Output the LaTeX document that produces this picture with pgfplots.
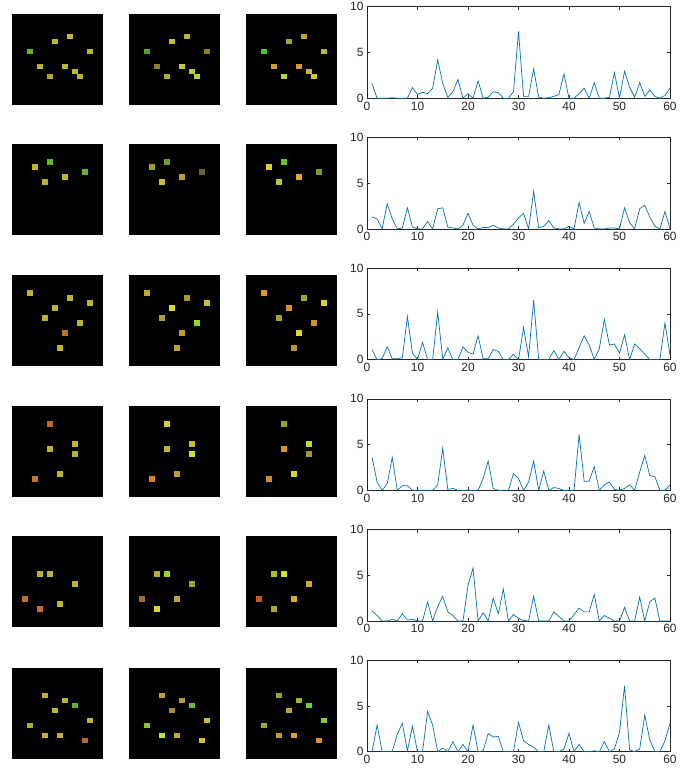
\documentclass[border=0pt]{standalone}
\usepackage{fontspec}
\setmainfont{Liberation Sans}
\usepackage{pgfplots}
\pgfplotsset{compat=1.18}
\definecolor{mblue}{RGB}{0,114,189}
\definecolor{axgray}{RGB}{38,38,38}
\pgfplotsset{
 lineax/.style={scale only axis, width=303bp, height=91.5bp, anchor=north west,
  xmin=0,xmax=60,ymin=0,ymax=10, xtick={0,10,...,60}, ytick={0,5,10},
  tick align=inside, major tick length=3bp,
  axis line style={axgray, line width=0.5bp},
  every tick/.style={axgray, line width=0.5bp},
  tick label style={font=\fontsize{12}{13}\selectfont, text=axgray},
  /pgf/number format/assume math mode=true},
 imgax/.style={scale only axis, width=90bp, height=90bp, anchor=north west,
  xmin=-0.5,xmax=17.5,ymin=-0.5,ymax=17.5, y dir=reverse,
  xtick=\empty, ytick=\empty,
  axis background/.style={fill=black}, axis line style={draw=black}},
}
\newcommand\pix[5]{\addplot[only marks, mark=square*, mark size=2.45bp,
  color={rgb,255:red,#3;green,#4;blue,#5}] coordinates {(#1,#2)};}
\begin{document}
\begin{tikzpicture}
\useasboundingbox (0,0) rectangle (699bp,-774bp);
% ---------------- Row 1 ----------------
\begin{axis}[imgax, at={(12bp,-13.7bp)}]
\pix{3}{7}{90}{180}{40}
\pix{8}{5}{190}{180}{40}
\pix{11}{4}{195}{185}{40}
\pix{15}{7}{190}{180}{40}
\pix{5}{10}{190}{180}{40}
\pix{10}{10}{190}{185}{40}
\pix{12}{11}{195}{185}{40}
\pix{7}{12}{180}{170}{35}
\pix{13}{12}{190}{180}{40}
\end{axis}
\begin{axis}[imgax, at={(129bp,-13.7bp)}]
\pix{3}{7}{90}{160}{40}
\pix{8}{5}{195}{190}{45}
\pix{11}{4}{190}{180}{40}
\pix{15}{7}{140}{130}{30}
\pix{5}{10}{140}{130}{30}
\pix{10}{10}{200}{200}{50}
\pix{12}{11}{170}{210}{50}
\pix{7}{12}{185}{170}{40}
\pix{13}{12}{180}{210}{50}
\end{axis}
\begin{axis}[imgax, at={(246bp,-13.7bp)}]
\pix{3}{7}{90}{190}{40}
\pix{8}{5}{150}{170}{40}
\pix{11}{4}{200}{160}{40}
\pix{15}{7}{190}{180}{40}
\pix{5}{10}{200}{160}{40}
\pix{10}{10}{220}{150}{40}
\pix{12}{11}{200}{185}{40}
\pix{7}{12}{170}{220}{50}
\pix{13}{12}{210}{200}{40}
\end{axis}
\begin{axis}[lineax, at={(367bp,-6.7bp)}]
\addplot[mblue, line width=0.7bp, mark=none] coordinates {
(1,1.6)(2,0)(3,0)(4,0)(5,0.05)(6,0)(7,0)(8,0)(9,1.15)(10,0.4)
(11,0.65)(12,0.5)(13,1.1)(14,4.2)(15,1.6)(16,0.1)(17,0.7)(18,2.05)(19,0)(20,0.5)
(21,0)(22,1.9)(23,0)(24,0.1)(25,0.7)(26,0.6)(27,0)(28,0)(29,0.7)(30,7.3)
(31,0.2)(32,0.2)(33,3.2)(34,0.1)(35,0)(36,0.05)(37,0.2)(38,0.4)(39,2.65)(40,0)
(41,0)(42,0.5)(43,1.1)(44,0)(45,1.7)(46,0)(47,0)(48,0.1)(49,2.8)(50,0)
(51,2.95)(52,1.2)(53,0.1)(54,1.7)(55,0.2)(56,0.9)(57,0.2)(58,0)(59,0.3)(60,1.1)};
\end{axis}
% ---------------- Row 2 ----------------
\begin{axis}[imgax, at={(12bp,-144.4bp)}]
\pix{4}{4}{190}{180}{40}
\pix{7}{3}{100}{180}{40}
\pix{14}{5}{100}{180}{40}
\pix{10}{6}{190}{180}{40}
\pix{6}{7}{190}{180}{40}
\end{axis}
\begin{axis}[imgax, at={(129bp,-144.4bp)}]
\pix{4}{4}{160}{160}{40}
\pix{7}{3}{110}{160}{40}
\pix{14}{5}{110}{100}{30}
\pix{10}{6}{190}{160}{40}
\pix{6}{7}{200}{190}{40}
\end{axis}
\begin{axis}[imgax, at={(246bp,-144.4bp)}]
\pix{4}{4}{220}{210}{40}
\pix{7}{3}{100}{200}{40}
\pix{14}{5}{120}{160}{40}
\pix{10}{6}{230}{170}{30}
\pix{6}{7}{180}{200}{50}
\end{axis}
\begin{axis}[lineax, at={(367bp,-137.4bp)}]
\addplot[mblue, line width=0.7bp, mark=none] coordinates {
(1,1.3)(2,1.1)(3,0)(4,2.75)(5,1.1)(6,0)(7,0.1)(8,2.3)(9,0.2)(10,0)
(11,0)(12,0.8)(13,0)(14,2.2)(15,2.3)(16,0.2)(17,0.1)(18,0)(19,0.4)(20,1.7)
(21,0.4)(22,0)(23,0.15)(24,0.15)(25,0.4)(26,0.1)(27,0)(28,0)(29,0.5)(30,1.2)
(31,1.7)(32,0)(33,4.1)(34,0.1)(35,0.3)(36,0.9)(37,0.1)(38,0)(39,0)(40,0.3)
(41,0)(42,2.9)(43,0.6)(44,1.9)(45,0.1)(46,0)(47,0)(48,0.1)(49,0.1)(50,0)
(51,2.3)(52,0.7)(53,0)(54,2.2)(55,2.6)(56,1.3)(57,0.3)(58,0)(59,1.9)(60,0)};
\end{axis}
% ---------------- Row 3 ----------------
\begin{axis}[imgax, at={(12bp,-275.1bp)}]
\pix{3}{3}{190}{180}{40}
\pix{11}{4}{190}{180}{40}
\pix{15}{5}{190}{180}{40}
\pix{8}{6}{190}{180}{40}
\pix{6}{8}{190}{180}{40}
\pix{13}{9}{190}{180}{40}
\pix{10}{11}{190}{110}{40}
\pix{9}{14}{190}{180}{40}
\end{axis}
\begin{axis}[imgax, at={(129bp,-275.1bp)}]
\pix{3}{3}{190}{170}{40}
\pix{11}{4}{170}{150}{40}
\pix{15}{5}{200}{190}{40}
\pix{8}{6}{220}{210}{40}
\pix{6}{8}{170}{160}{40}
\pix{13}{9}{140}{220}{40}
\pix{10}{11}{190}{160}{40}
\pix{9}{14}{190}{160}{40}
\end{axis}
\begin{axis}[imgax, at={(246bp,-275.1bp)}]
\pix{3}{3}{220}{150}{30}
\pix{11}{4}{150}{170}{40}
\pix{15}{5}{220}{210}{40}
\pix{8}{6}{220}{140}{40}
\pix{6}{8}{170}{160}{40}
\pix{13}{9}{210}{150}{40}
\pix{10}{11}{220}{220}{40}
\pix{9}{14}{190}{150}{40}
\end{axis}
\begin{axis}[lineax, at={(367bp,-268.1bp)}]
\addplot[mblue, line width=0.7bp, mark=none] coordinates {
(1,1.1)(2,0)(3,0.1)(4,1.4)(5,0.1)(6,0.1)(7,0.2)(8,4.7)(9,0.7)(10,0)
(11,1.9)(12,0)(13,0)(14,5.2)(15,0)(16,1.3)(17,0)(18,0)(19,1.4)(20,0.8)
(21,0.6)(22,2.6)(23,0.1)(24,0.1)(25,1.1)(26,0.9)(27,0)(28,0)(29,0.6)(30,0)
(31,3.5)(32,0.3)(33,6.5)(34,0)(35,0)(36,0)(37,1.0)(38,0)(39,0.9)(40,0.2)
(41,0)(42,1.3)(43,2.6)(44,1.6)(45,0)(46,1.2)(47,4.4)(48,1.6)(49,1.7)(50,0.7)
(51,2.7)(52,0)(53,1.7)(54,1.2)(55,0.6)(56,0)(57,0)(58,0)(59,4.0)(60,0.5)};
\end{axis}
% ---------------- Row 4 ----------------
\begin{axis}[imgax, at={(12bp,-405.8bp)}]
\pix{7}{3}{190}{110}{40}
\pix{12}{7}{190}{180}{40}
\pix{7}{8}{190}{180}{40}
\pix{12}{9}{190}{180}{40}
\pix{9}{13}{190}{180}{40}
\pix{4}{14}{190}{120}{40}
\end{axis}
\begin{axis}[imgax, at={(129bp,-405.8bp)}]
\pix{7}{3}{220}{210}{40}
\pix{12}{7}{200}{190}{40}
\pix{7}{8}{190}{180}{40}
\pix{12}{9}{200}{230}{40}
\pix{9}{13}{190}{160}{40}
\pix{4}{14}{220}{130}{40}
\end{axis}
\begin{axis}[imgax, at={(246bp,-405.8bp)}]
\pix{7}{3}{140}{170}{40}
\pix{12}{7}{190}{220}{40}
\pix{7}{8}{220}{150}{40}
\pix{12}{9}{170}{150}{40}
\pix{9}{13}{220}{210}{40}
\pix{4}{14}{210}{140}{40}
\end{axis}
\begin{axis}[lineax, at={(367bp,-398.8bp)}]
\addplot[mblue, line width=0.7bp, mark=none] coordinates {
(1,3.6)(2,0.9)(3,0)(4,0.7)(5,3.6)(6,0)(7,0.5)(8,0.5)(9,0)(10,0)
(11,0)(12,0)(13,0)(14,0.6)(15,4.6)(16,0.1)(17,0.2)(18,0)(19,0)(20,0)
(21,0)(22,0)(23,1.3)(24,3.2)(25,0.2)(26,0)(27,0)(28,0)(29,1.8)(30,1.3)
(31,0)(32,0.9)(33,3.2)(34,0)(35,2.1)(36,0)(37,0.3)(38,0.2)(39,0)(40,0)
(41,0)(42,6.1)(43,1.0)(44,1.0)(45,2.6)(46,0)(47,0.6)(48,0.9)(49,0.1)(50,0)
(51,0.2)(52,0.6)(53,0)(54,2.0)(55,3.8)(56,1.6)(57,1.5)(58,0)(59,0)(60,0.6)};
\end{axis}
% ---------------- Row 5 ----------------
\begin{axis}[imgax, at={(12bp,-536.5bp)}]
\pix{5}{7}{190}{180}{40}
\pix{7}{7}{190}{180}{40}
\pix{12}{9}{190}{180}{40}
\pix{2}{12}{190}{110}{40}
\pix{9}{13}{190}{180}{40}
\pix{5}{14}{200}{110}{40}
\end{axis}
\begin{axis}[imgax, at={(129bp,-536.5bp)}]
\pix{5}{7}{180}{180}{40}
\pix{7}{7}{160}{210}{40}
\pix{12}{9}{160}{160}{40}
\pix{2}{12}{160}{110}{40}
\pix{9}{12}{190}{170}{40}
\pix{5}{14}{210}{220}{40}
\end{axis}
\begin{axis}[imgax, at={(246bp,-536.5bp)}]
\pix{5}{7}{180}{180}{40}
\pix{7}{7}{200}{230}{40}
\pix{12}{9}{210}{170}{40}
\pix{2}{12}{200}{90}{40}
\pix{9}{12}{220}{170}{40}
\pix{5}{14}{170}{170}{40}
\end{axis}
\begin{axis}[lineax, at={(367bp,-529.5bp)}]
\addplot[mblue, line width=0.7bp, mark=none] coordinates {
(1,1.1)(2,0.6)(3,0)(4,0)(5,0.2)(6,0)(7,0.8)(8,0.1)(9,0.2)(10,0)
(11,0)(12,2.1)(13,0)(14,1.6)(15,2.7)(16,1.0)(17,0.6)(18,0)(19,0)(20,3.9)
(21,5.8)(22,0)(23,0.9)(24,0)(25,2.5)(26,0.8)(27,3.5)(28,0)(29,0.7)(30,0.3)
(31,0.05)(32,0)(33,2.7)(34,0)(35,0)(36,0)(37,1.0)(38,0.5)(39,0)(40,0)
(41,0.7)(42,1.4)(43,1.0)(44,1.0)(45,2.9)(46,0)(47,0.6)(48,0.3)(49,0)(50,0)
(51,1.5)(52,0)(53,0)(54,2.6)(55,0)(56,2.1)(57,2.5)(58,0)(59,0)(60,0)};
\end{axis}
% ---------------- Row 6 ----------------
\begin{axis}[imgax, at={(12bp,-667.7bp)}]
\pix{6}{5}{190}{180}{40}
\pix{10}{6}{190}{180}{40}
\pix{12}{7}{100}{180}{40}
\pix{8}{8}{190}{180}{40}
\pix{15}{10}{190}{180}{40}
\pix{3}{11}{180}{170}{40}
\pix{6}{13}{190}{180}{40}
\pix{9}{13}{190}{180}{40}
\pix{14}{14}{190}{100}{40}
\end{axis}
\begin{axis}[imgax, at={(129bp,-667.7bp)}]
\pix{6}{5}{190}{160}{40}
\pix{10}{6}{180}{160}{40}
\pix{12}{7}{110}{190}{40}
\pix{8}{8}{170}{140}{40}
\pix{15}{10}{200}{190}{40}
\pix{3}{11}{130}{200}{40}
\pix{6}{13}{190}{230}{40}
\pix{9}{13}{190}{170}{40}
\pix{14}{14}{210}{200}{40}
\end{axis}
\begin{axis}[imgax, at={(246bp,-667.7bp)}]
\pix{6}{5}{150}{160}{40}
\pix{10}{6}{160}{180}{40}
\pix{12}{7}{110}{210}{40}
\pix{8}{8}{190}{170}{40}
\pix{15}{10}{130}{210}{40}
\pix{3}{11}{170}{160}{40}
\pix{6}{13}{190}{160}{40}
\pix{9}{13}{220}{160}{40}
\pix{14}{14}{220}{140}{40}
\end{axis}
\begin{axis}[lineax, at={(367bp,-660.2bp)}]
\addplot[mblue, line width=0.7bp, mark=none] coordinates {
(1,0)(2,2.9)(3,0)(4,0)(5,0)(6,1.9)(7,3.1)(8,0.1)(9,2.8)(10,0)
(11,0)(12,4.4)(13,2.9)(14,0)(15,0.4)(16,0)(17,1.1)(18,0)(19,0.8)(20,0)
(21,2.9)(22,0)(23,0.1)(24,2.0)(25,1.6)(26,1.7)(27,0)(28,0)(29,0)(30,3.2)
(31,1.2)(32,0.8)(33,0.5)(34,0)(35,0)(36,2.9)(37,0)(38,0)(39,0.3)(40,2.0)
(41,0)(42,0.8)(43,0)(44,0)(45,0.1)(46,0)(47,1.1)(48,0)(49,0.3)(50,2.1)
(51,7.2)(52,0.2)(53,0)(54,0.3)(55,4.0)(56,1.3)(57,0)(58,0)(59,1.2)(60,3.1)};
\end{axis}
\end{tikzpicture}
\end{document}
